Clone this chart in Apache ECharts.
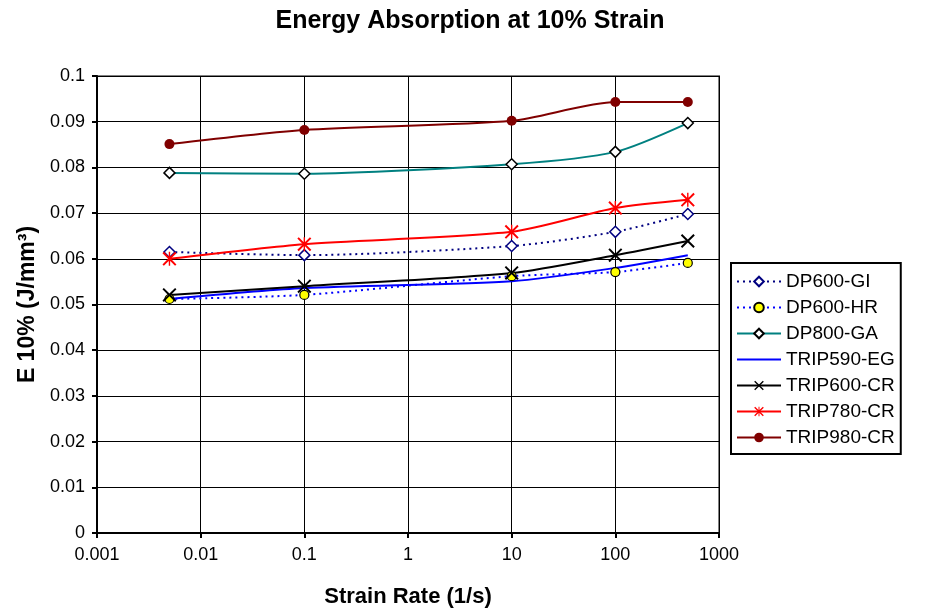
<!DOCTYPE html>
<html>
<head>
<meta charset="utf-8">
<script src="https://cdn.jsdelivr.net/npm/echarts@6/dist/echarts.min.js"></script>
<style>
html,body{margin:0;padding:0;background:#fff;}
#chart{width:933px;height:613px;}
</style>
</head>
<body>
<div id="chart"></div>
<script>
// ---- data ----
const strainRates = [0.005, 0.1, 10, 100, 500];
const dp600GI   = [0.0615, 0.0608, 0.0628, 0.0659, 0.0698];
const dp600HR   = [0.0512, 0.0521, 0.0562, 0.0571, 0.0591];
const dp800GA   = [0.0788, 0.0786, 0.0807, 0.0834, 0.0897];
const trip590EG = [0.0512, 0.0536, 0.0551, 0.0580, 0.0608];
const trip600CR = [0.0521, 0.0540, 0.0569, 0.0608, 0.0639];
const trip780CR = [0.0600, 0.0632, 0.0659, 0.0711, 0.0729];
const trip980CR = [0.0851, 0.0882, 0.0902, 0.0943, 0.0943];
const seriesNames = ['DP600-GI','DP600-HR','DP800-GA','TRIP590-EG','TRIP600-CR','TRIP780-CR','TRIP980-CR'];
const xTicks = [0.001, 0.01, 0.1, 1, 10, 100, 1000];

const FONT = '"Liberation Sans", Arial, sans-serif';
const pair = arr => strainRates.map((x, i) => [x, arr[i]]);

const crossPath = 'path://M0,2 L2,0 L10,8 L18,0 L20,2 L12,10 L20,18 L18,20 L10,12 L2,20 L0,18 L8,10 Z';
const starPath = 'path://M0,2 L2,0 L10,8 L18,0 L20,2 L12,10 L20,18 L18,20 L10,12 L2,20 L0,18 L8,10 Z M9,0 L11,0 L11,20 L9,20 Z';
const plainLineIcon = 'path://M0,0 L44,0 L44,2 L0,2 Z';

const chart = echarts.init(document.getElementById('chart'), null, {renderer: 'canvas'});

function mk(name, data, opt) {
  return Object.assign({
    name: name,
    type: 'line',
    data: pair(data),
    smooth: 0.25,
    z: 3
  }, opt);
}

const series = [
  mk(seriesNames[0], dp600GI, {
    symbol: 'diamond', symbolSize: 11,
    lineStyle: {color: '#000080', width: 2, type: [2, 4]},
    itemStyle: {color: '#ffffff', borderColor: '#000080', borderWidth: 1.5}
  }),
  mk(seriesNames[1], dp600HR, {
    symbol: 'circle', symbolSize: 9,
    lineStyle: {color: '#0000ff', width: 2, type: [2, 4]},
    itemStyle: {color: '#ffff00', borderColor: '#000000', borderWidth: 1.2}
  }),
  mk(seriesNames[2], dp800GA, {
    symbol: 'diamond', symbolSize: 11,
    lineStyle: {color: '#008080', width: 2},
    itemStyle: {color: '#ffffff', borderColor: '#000000', borderWidth: 1.5}
  }),
  mk(seriesNames[3], trip590EG, {
    symbol: 'none', showSymbol: false,
    lineStyle: {color: '#0000ff', width: 2},
    itemStyle: {color: '#0000ff'}
  }),
  mk(seriesNames[4], trip600CR, {
    symbol: crossPath, symbolSize: 14,
    lineStyle: {color: '#000000', width: 2},
    itemStyle: {color: '#000000'}
  }),
  mk(seriesNames[5], trip780CR, {
    symbol: starPath, symbolSize: 14,
    lineStyle: {color: '#ff0000', width: 2},
    itemStyle: {color: '#ff0000'}
  }),
  mk(seriesNames[6], trip980CR, {
    symbol: 'circle', symbolSize: 10,
    lineStyle: {color: '#800000', width: 2},
    itemStyle: {color: '#800000'}
  })
];

const legendData = seriesNames.map(n => n === 'TRIP590-EG'
  ? {name: n, icon: plainLineIcon, itemStyle: {color: '#0000ff'}}
  : {name: n});

chart.setOption({
  animation: false,
  backgroundColor: '#ffffff',
  textStyle: {fontFamily: FONT},
  title: {
    text: 'Energy Absorption at 10% Strain',
    left: 465, top: 4, textAlign: 'center',
    textStyle: {fontFamily: FONT, fontSize: 25, fontWeight: 'bold', color: '#000'}
  },
  grid: {
    left: 97, right: 214, top: 76, bottom: 80,
    show: true, borderColor: '#808080', borderWidth: 2, backgroundColor: 'transparent'
  },
  legend: {
    orient: 'vertical',
    left: 731, top: 263,
    width: 172,
    padding: [9, 6, 7, 5],
    itemGap: 7,
    itemWidth: 44, itemHeight: 12,
    borderColor: '#000', borderWidth: 2,
    backgroundColor: '#fff',
    textStyle: {fontFamily: FONT, fontSize: 19, color: '#000'},
    data: legendData
  },
  xAxis: {
    type: 'log', logBase: 10, min: 0.001, max: 1000,
    name: 'Strain Rate (1/s)', nameLocation: 'middle', nameGap: 53,
    nameTextStyle: {fontFamily: FONT, fontSize: 22, fontWeight: 'bold', color: '#000'},
    axisLine: {show: true, lineStyle: {color: '#000', width: 2}},
    axisTick: {show: true, length: 5, lineStyle: {color: '#000', width: 2}},
    splitLine: {show: true, lineStyle: {color: '#000', width: 1}},
    minorTick: {show: false},
    axisLabel: {
      fontFamily: FONT, fontSize: 18, color: '#000', margin: 13,
      formatter: v => { const t = xTicks.find(k => Math.abs(Math.log10(k) - Math.log10(v)) < 1e-6); return t !== undefined ? String(t) : ''; }
    }
  },
  yAxis: {
    type: 'value', min: 0, max: 0.1, interval: 0.01,
    name: 'E 10% (J/mm³)', nameLocation: 'middle', nameGap: 58, nameRotate: 90,
    nameTextStyle: {fontFamily: FONT, fontSize: 23, fontWeight: 'bold', color: '#000'},
    axisLine: {show: true, lineStyle: {color: '#000', width: 2}},
    axisTick: {show: true, length: 5, lineStyle: {color: '#000', width: 2}},
    splitLine: {show: true, lineStyle: {color: '#000', width: 1}},
    axisLabel: {
      fontFamily: FONT, fontSize: 18, color: '#000', margin: 12,
      formatter: v => String(Math.round(v * 100) / 100)
    }
  },
  series: series
});
</script>
</body>
</html>
